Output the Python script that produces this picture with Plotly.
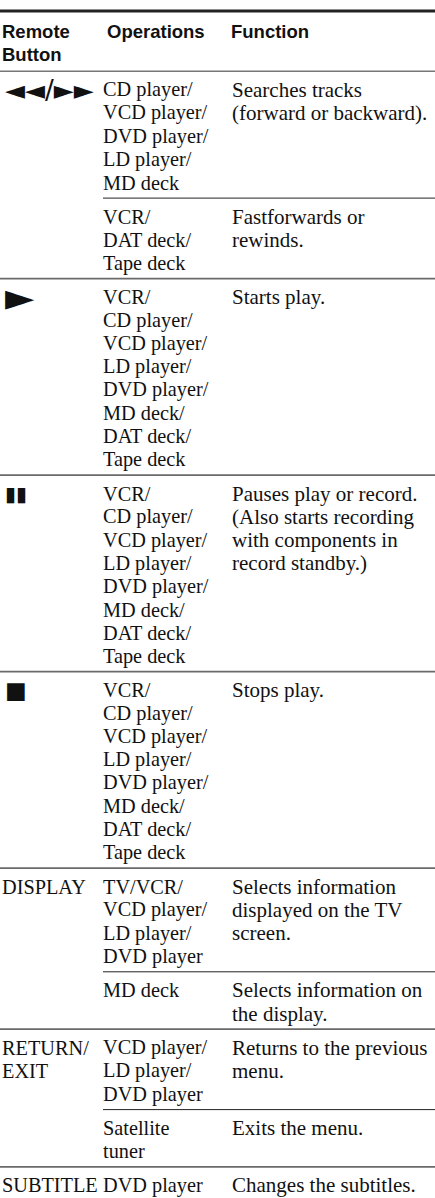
import plotly.graph_objects as go

W, H = 435, 1198

# ---- table content ----
header_button = ["Remote", "Button"]
header_operations = ["Operations"]
header_function = ["Function"]

buttons = [
    ["◄◄/►►"],
    ["►"],
    ["▮▮"],
    ["■"],
    ["DISPLAY"],
    ["RETURN/", "EXIT"],
    ["SUBTITLE"],
]

operations = [
    [["CD player/", "VCD player/", "DVD player/", "LD player/", "MD deck"],
     ["VCR/", "DAT deck/", "Tape deck"]],
    [["VCR/", "CD player/", "VCD player/", "LD player/", "DVD player/", "MD deck/", "DAT deck/", "Tape deck"]],
    [["VCR/", "CD player/", "VCD player/", "LD player/", "DVD player/", "MD deck/", "DAT deck/", "Tape deck"]],
    [["VCR/", "CD player/", "VCD player/", "LD player/", "DVD player/", "MD deck/", "DAT deck/", "Tape deck"]],
    [["TV/VCR/", "VCD player/", "LD player/", "DVD player"],
     ["MD deck"]],
    [["VCD player/", "LD player/", "DVD player"],
     ["Satellite", "tuner"]],
    [["DVD player"]],
]

functions = [
    [["Searches tracks", "(forward or backward)."],
     ["Fastforwards or", "rewinds."]],
    [["Starts play."]],
    [["Pauses play or record.", "(Also starts recording", "with components in", "record standby.)"]],
    [["Stops play."]],
    [["Selects information", "displayed on the TV", "screen."],
     ["Selects information on", "the display."]],
    [["Returns to the previous", "menu."],
     ["Exits the menu."]],
    [["Changes the subtitles."]],
]

# ---- layout parameters ----
X1, X1S, X2, X3 = 0, 3, 101, 230
X2H, X3H = 105, 229
LINE_H = 23.2
PAD_TOP = 18.5
PAD_BOT = 15.6
TOP_RULE = 11
BTN_FONT = dict(family="Liberation Serif", size=20.3, color="#111")
OPS_FONT = dict(family="Liberation Serif", size=20.3, color="#111")
FN_FONT = dict(family="Liberation Serif", size=21, color="#111")
HEAD_FONT = dict(family="Liberation Sans", size=18.5, color="#111")
SYM_FONTS = {
    "◄◄/►►": dict(family="DejaVu Sans", size=26, color="#111"),
    "►": dict(family="DejaVu Sans", size=38, color="#111"),
    "▮▮": dict(family="DejaVu Sans", size=20, color="#111"),
    "■": dict(family="DejaVu Sans", size=23, color="#111"),
}

annotations = []
shapes = []


def add_text(x, y, txt, font):
    annotations.append(dict(x=x, y=y, xref="x", yref="y", text=txt, showarrow=False,
                            xanchor="left", yanchor="middle", font=font))


def hline(y, x0, color, width):
    shapes.append(dict(type="line", xref="x", yref="y", x0=x0, x1=W, y0=y, y1=y,
                       line=dict(color=color, width=width)))


hline(TOP_RULE, 0, "#222", 3)

# header row
y = TOP_RULE
hy = y + 20
for i, t in enumerate(header_button):
    add_text(X1, hy + i * LINE_H, "<b>" + t + "</b>", HEAD_FONT)
for i, t in enumerate(header_operations):
    add_text(X2H, hy + i * LINE_H, "<b>" + t + "</b>", HEAD_FONT)
for i, t in enumerate(header_function):
    add_text(X3H, hy + i * LINE_H, "<b>" + t + "</b>", HEAD_FONT)
n = max(len(header_button), len(header_operations), len(header_function))
y = hy + (n - 1) * LINE_H + 17
hline(y, 0, "#777", 1.5)

# body rows
for gi, btn in enumerate(buttons):
    gy = y
    is_sym = btn[0] in SYM_FONTS
    font = SYM_FONTS.get(btn[0], BTN_FONT)
    for i, t in enumerate(btn):
        add_text(X1S if is_sym else X1, gy + PAD_TOP + i * LINE_H, t, font)
    subs = operations[gi]
    for si, ops in enumerate(subs):
        fn = functions[gi][si]
        for i, t in enumerate(ops):
            add_text(X2, y + PAD_TOP + i * LINE_H, t, OPS_FONT)
        for i, t in enumerate(fn):
            add_text(X3, y + PAD_TOP + i * LINE_H, t, FN_FONT)
        n = max(len(ops), len(fn), len(btn) if si == 0 else 0)
        y = y + PAD_TOP + (n - 1) * LINE_H + PAD_BOT
        if gi == len(buttons) - 1:
            continue
        if si < len(subs) - 1:
            hline(y, X2 + 2, "#222", 1)
        else:
            hline(y, 0, "#6a6a6a", 1.6)

fig = go.Figure()
fig.update_layout(
    width=W, height=H,
    margin=dict(l=0, r=0, t=0, b=0),
    paper_bgcolor="white", plot_bgcolor="white",
    xaxis=dict(range=[0, W], visible=False, fixedrange=True),
    yaxis=dict(range=[H, 0], visible=False, fixedrange=True),
    annotations=annotations, shapes=shapes,
    showlegend=False,
)
fig.write_html("out.html", config={"displayModeBar": False},
               post_script="document.body.style.margin='0';")
